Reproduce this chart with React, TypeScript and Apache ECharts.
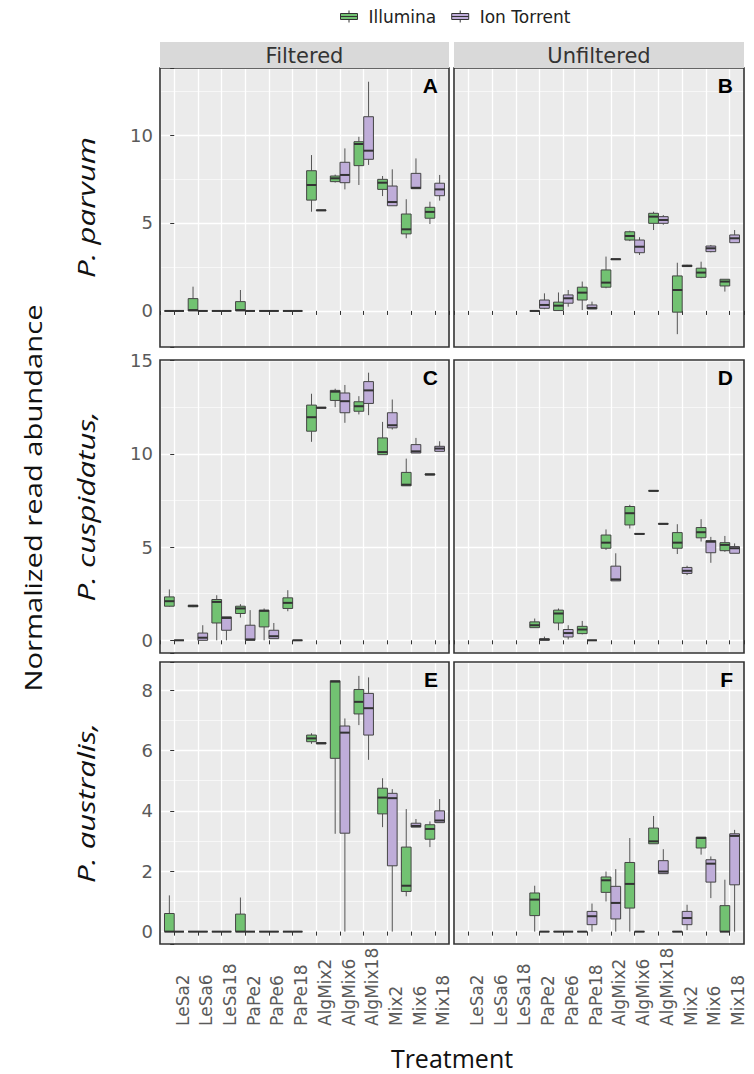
import React, { useEffect, useRef } from 'react';
import * as echarts from 'echarts';

// ---------- data ----------
const categories = ['LeSa2', 'LeSa6', 'LeSa18', 'PaPe2', 'PaPe6', 'PaPe18', 'AlgMix2', 'AlgMix6', 'AlgMix18', 'Mix2', 'Mix6', 'Mix18'];
const platforms = ['Illumina', 'Ion Torrent'];
const facetColumns = ['Filtered', 'Unfiltered'];
const speciesRows = ['P. parvum', 'P. cuspidatus,', 'P. australis,'];
const panelLetters = ['A', 'B', 'C', 'D', 'E', 'F'];

type Box = number[] | null; // [min, q1, median, q3, max]

// A: Filtered, P. parvum
const filteredParvumIllumina: Box[] = [
  [0, 0, 0, 0, 0], [0, 0, 0.05, 0.7, 1.38], [0, 0, 0, 0, 0], [0, 0, 0.05, 0.53, 1.19], [0, 0, 0, 0, 0], [0, 0, 0, 0, 0],
  [5.64, 6.3, 7.16, 7.97, 8.86], [7.3, 7.35, 7.54, 7.67, 7.75], [7.16, 8.26, 9.49, 9.62, 9.9],
  [6.53, 6.91, 7.29, 7.48, 7.67], [4.13, 4.38, 4.64, 5.51, 6.35], [4.94, 5.27, 5.63, 5.89, 6.21],
];
const filteredParvumIon: Box[] = [
  [0, 0, 0, 0, 0], [0, 0, 0, 0, 0], [0, 0, 0, 0, 0], [0, 0, 0, 0, 0], [0, 0, 0, 0, 0], [0, 0, 0, 0, 0],
  [5.7, 5.7, 5.72, 5.74, 5.74], [6.91, 7.29, 7.73, 8.45, 9.24], [8.3, 8.62, 9.11, 11.04, 13.03],
  [5.98, 5.98, 6.19, 7.1, 8.05], [6.95, 6.95, 7.0, 7.82, 8.67], [6.27, 6.55, 6.91, 7.26, 7.73],
];
// B: Unfiltered, P. parvum
const unfilteredParvumIllumina: Box[] = [
  null, null, null, [0, 0, 0, 0, 0], [0, 0.02, 0.3, 0.5, 1.05], [0.05, 0.62, 1.04, 1.35, 1.67],
  [1.29, 1.35, 1.61, 2.33, 3.09], [3.97, 4.03, 4.26, 4.5, 4.56], [4.6, 4.98, 5.36, 5.55, 5.64],
  [-1.32, -0.07, 1.19, 1.99, 2.74], [1.86, 1.91, 2.18, 2.43, 2.8], [1.1, 1.42, 1.67, 1.8, 1.8],
];
const unfilteredParvumIon: Box[] = [
  null, null, null, [0.1, 0.15, 0.34, 0.62, 1.0], [0.24, 0.44, 0.72, 0.91, 1.19], [0.11, 0.11, 0.17, 0.34, 0.53],
  [2.92, 2.92, 2.94, 2.96, 2.96], [3.18, 3.31, 3.65, 4.03, 4.19], [4.9, 4.98, 5.17, 5.36, 5.45],
  [2.5, 2.52, 2.56, 2.6, 2.62], [3.33, 3.37, 3.56, 3.69, 3.75], [3.88, 3.88, 4.13, 4.32, 4.6],
];
// C: Filtered, P. cuspidatus
const filteredCuspidatusIllumina: Box[] = [
  [1.8, 1.83, 2.1, 2.33, 2.73], [1.78, 1.8, 1.85, 1.88, 1.9], [0, 0.93, 2.06, 2.19, 2.42],
  [1.22, 1.44, 1.71, 1.83, 1.94], [0, 0.72, 1.58, 1.62, 1.71], [1.56, 1.71, 2.01, 2.28, 2.69],
  [10.65, 11.22, 11.97, 12.62, 13.23], [12.51, 12.87, 13.34, 13.41, 13.5], [12.12, 12.29, 12.56, 12.8, 13.1],
  [9.96, 9.96, 10.1, 10.86, 11.72], [8.29, 8.29, 8.35, 9.01, 9.75], [8.87, 8.87, 8.9, 8.93, 8.93],
];
const filteredCuspidatusIon: Box[] = [
  [0, 0, 0, 0, 0], [0, 0, 0.14, 0.39, 0.81], [0, 0.54, 1.2, 1.26, 1.26],
  [0, 0, 0.05, 0.81, 1.62], [0.09, 0.09, 0.22, 0.54, 0.93], [0, 0, 0, 0, 0],
  [12.45, 12.45, 12.48, 12.5, 12.5], [11.67, 12.21, 12.83, 13.27, 13.7], [12.08, 12.71, 13.41, 13.88, 14.36],
  [11.31, 11.4, 11.54, 12.21, 12.92], [10.05, 10.05, 10.14, 10.5, 10.86], [10.14, 10.14, 10.29, 10.41, 10.68],
];
// D: Unfiltered, P. cuspidatus
const unfilteredCuspidatusIllumina: Box[] = [
  null, null, null, [0.68, 0.68, 0.81, 0.99, 1.17], [0.54, 0.93, 1.44, 1.62, 1.71], [0.32, 0.36, 0.58, 0.75, 1.04],
  [4.85, 4.94, 5.24, 5.65, 5.95], [6.0, 6.19, 6.82, 7.18, 7.27], [8.0, 8.0, 8.02, 8.04, 8.04],
  [4.63, 4.94, 5.24, 5.78, 6.23], [5.3, 5.5, 5.8, 6.05, 6.5], [4.75, 4.81, 5.12, 5.24, 5.6],
];
const unfilteredCuspidatusIon: Box[] = [
  null, null, null, [0, 0, 0.05, 0.08, 0.2], [0.05, 0.18, 0.39, 0.58, 0.81], [0, 0, 0, 0, 0],
  [3.19, 3.19, 3.27, 3.98, 4.67], [5.69, 5.69, 5.71, 5.73, 5.73], [6.23, 6.23, 6.25, 6.27, 6.27],
  [3.5, 3.59, 3.73, 3.91, 4.0], [4.16, 4.7, 5.29, 5.35, 5.55], [4.67, 4.67, 4.94, 5.03, 5.2],
];
// E: Filtered, P. australis
const filteredAustralisIllumina: Box[] = [
  [0, 0, 0, 0.6, 1.2], [0, 0, 0, 0, 0], [0, 0, 0, 0, 0], [0, 0, 0, 0.58, 1.13], [0, 0, 0, 0, 0], [0, 0, 0, 0, 0],
  [6.22, 6.29, 6.4, 6.51, 6.57], [3.24, 5.74, 8.28, 8.31, 8.31], [6.84, 7.21, 7.61, 8.02, 8.47],
  [3.46, 3.9, 4.44, 4.75, 5.08], [1.17, 1.33, 1.52, 2.8, 4.06], [2.8, 3.06, 3.4, 3.54, 3.65],
];
const filteredAustralisIon: Box[] = [
  [0, 0, 0, 0, 0], [0, 0, 0, 0, 0], [0, 0, 0, 0, 0], [0, 0, 0, 0, 0], [0, 0, 0, 0, 0], [0, 0, 0, 0, 0],
  [6.22, 6.22, 6.24, 6.26, 6.26], [0, 3.26, 6.59, 6.81, 7.06], [5.69, 6.51, 7.4, 7.89, 8.42],
  [0, 2.18, 4.42, 4.58, 4.72], [3.46, 3.46, 3.5, 3.59, 3.73], [3.61, 3.61, 3.68, 4.0, 4.39],
];
// F: Unfiltered, P. australis
const unfilteredAustralisIllumina: Box[] = [
  null, null, null, [0, 0.53, 1.06, 1.28, 1.52], [0, 0, 0, 0, 0], [0, 0, 0, 0, 0],
  [1.0, 1.3, 1.7, 1.81, 1.99], [0, 0.78, 1.58, 2.29, 3.1], [2.91, 2.91, 2.99, 3.43, 3.83],
  [0, 0, 0, 0, 0], [2.55, 2.77, 3.1, 3.13, 3.13], [0, 0, 0, 0.86, 1.72],
];
const unfilteredAustralisIon: Box[] = [
  null, null, null, [0, 0, 0, 0, 0], [0, 0, 0, 0, 0], [0, 0.23, 0.51, 0.67, 0.93],
  [0, 0.42, 0.95, 1.5, 2.07], [0, 0, 0, 0, 0], [1.92, 1.92, 1.99, 2.35, 2.73],
  [0.05, 0.23, 0.45, 0.67, 0.89], [1.11, 1.64, 2.25, 2.38, 2.49], [0, 1.55, 3.17, 3.24, 3.37],
];

const panelData: Box[][][] = [
  [filteredParvumIllumina, filteredParvumIon],
  [unfilteredParvumIllumina, unfilteredParvumIon],
  [filteredCuspidatusIllumina, filteredCuspidatusIon],
  [unfilteredCuspidatusIllumina, unfilteredCuspidatusIon],
  [filteredAustralisIllumina, filteredAustralisIon],
  [unfilteredAustralisIllumina, unfilteredAustralisIon],
];

// y-axis ranges per row (ggplot-style expanded)
const rowYMin = [-2.05, -0.68, -0.41];
const rowYMax = [13.81, 15.04, 8.93];
const rowYStep = [5, 5, 2];

// ---------- layout / style ----------
const COL_X = [160, 454];
const COL_W = [289, 290];
const ROW_Y = [68, 360, 662];
const ROW_H = [279, 293, 282];
const COLORS = ['#72c272', '#bfadd9'];
const BOX_W = 0.41;
const BOX_OFF = [-0.205, 0.205];
const TICK_FONT = 'DejaVu Sans';
const TICK_COLOR = '#5a5a5a';

function makeRender(k: number) {
  return (params: any, api: any) => {
    const c = api.value(0);
    const vals = [api.value(1), api.value(2), api.value(3), api.value(4), api.value(5)];
    const cx = api.coord([c + BOX_OFF[k], 0])[0];
    const w = api.size([BOX_W, 0])[0];
    const y = vals.map((v: number) => api.coord([c, v])[1]);
    return {
      type: 'group',
      children: [
        { type: 'line', shape: { x1: cx, y1: y[4], x2: cx, y2: y[3] }, style: { stroke: '#555', lineWidth: 1 } },
        { type: 'line', shape: { x1: cx, y1: y[1], x2: cx, y2: y[0] }, style: { stroke: '#555', lineWidth: 1 } },
        { type: 'rect', shape: { x: cx - w / 2, y: y[3], width: w, height: Math.max(y[1] - y[3], 0) }, style: { fill: COLORS[k], stroke: '#444', lineWidth: 1 } },
        { type: 'line', shape: { x1: cx - w / 2, y1: y[2], x2: cx + w / 2, y2: y[2] }, style: { stroke: '#333', lineWidth: 2 } },
      ],
    };
  };
}

const intLabel = (v: number) => (Math.abs(v - Math.round(v)) < 1e-6 ? String(Math.round(v)) : '');
const catLabel = (v: number) => {
  const i = Math.round(v);
  return Math.abs(v - i) < 1e-6 && i >= 0 && i < categories.length ? categories[i] : '';
};

function buildOption() {
  const grids: any[] = [];
  const xAxes: any[] = [];
  const yAxes: any[] = [];
  const series: any[] = [];
  const graphics: any[] = [];

  for (let p = 0; p < 6; p++) {
    const row = Math.floor(p / 2);
    const col = p % 2;
    const left = COL_X[col];
    const top = ROW_Y[row];
    const width = COL_W[col];
    const height = ROW_H[row];
    grids.push({ left, top, width, height, show: true, backgroundColor: '#ebebeb', borderWidth: 0 });
    xAxes.push({
      type: 'value', gridIndex: p, min: -0.6, max: 11.6, minInterval: 1, maxInterval: 1,
      axisLine: { show: false },
      axisTick: { show: true, length: 4, lineStyle: { color: '#333', width: 1 } },
      axisLabel: {
        show: row === 2, formatter: catLabel, rotate: 90, align: 'left', verticalAlign: 'top', margin: 82,
        fontFamily: TICK_FONT, fontSize: 17, color: TICK_COLOR, showMinLabel: false, showMaxLabel: false,
      },
      splitLine: { show: true, lineStyle: { color: '#ffffff', width: 1.3 } },
    });
    yAxes.push({
      type: 'value', gridIndex: p, min: rowYMin[row], max: rowYMax[row],
      minInterval: rowYStep[row], maxInterval: rowYStep[row],
      axisLine: { show: false },
      axisTick: { show: col === 0, length: 4, lineStyle: { color: '#333', width: 1 } },
      axisLabel: { show: col === 0, formatter: intLabel, fontFamily: TICK_FONT, fontSize: 18, color: TICK_COLOR, margin: 7 },
      splitLine: { show: true, lineStyle: { color: '#ffffff', width: 1.3 } },
      minorTick: { show: false, splitNumber: 2 },
      minorSplitLine: { show: true, lineStyle: { color: '#ffffff', width: 0.6 } },
    });
    for (let k = 0; k < 2; k++) {
      const data = panelData[p][k]
        .map((b, i) => (b ? [i, ...b] : null))
        .filter((d) => d !== null);
      series.push({
        type: 'custom', name: platforms[k], xAxisIndex: p, yAxisIndex: p, data,
        encode: { x: 0, y: [1, 2, 3, 4, 5] },
        renderItem: makeRender(k), clip: false, silent: true, z: 5,
        itemStyle: { color: COLORS[k], borderColor: '#333' },
      });
    }
    // panel border
    graphics.push({ type: 'rect', z: 100, silent: true, shape: { x: left, y: top, width, height }, style: { fill: 'none', stroke: '#333', lineWidth: 1.6 } });
    // panel letter
    graphics.push({
      type: 'text', z: 101, x: left + width - 11, y: top + 7,
      style: { text: panelLetters[p], fill: '#000', font: 'bold 21px "Liberation Sans", Arial, sans-serif', align: 'right', verticalAlign: 'top', textAlign: 'right', textVerticalAlign: 'top' },
    });
  }

  // strips
  for (let c = 0; c < 2; c++) {
    graphics.push({ type: 'rect', z: 100, silent: true, shape: { x: COL_X[c], y: 42, width: COL_W[c], height: 26 }, style: { fill: '#d9d9d9' } });
    graphics.push({
      type: 'text', z: 101, x: COL_X[c] + COL_W[c] / 2, y: 55.5,
      style: { text: facetColumns[c], fill: '#333', font: '21px "DejaVu Sans", sans-serif', align: 'center', verticalAlign: 'middle', textAlign: 'center', textVerticalAlign: 'middle' },
    });
  }
  // row labels
  for (let r = 0; r < 3; r++) {
    graphics.push({
      type: 'text', z: 101, x: 86, y: ROW_Y[r] + ROW_H[r] / 2, rotation: Math.PI / 2, scaleX: 1.3,
      style: { text: speciesRows[r], fill: '#111', font: 'italic 24px "Open Sans", sans-serif', align: 'center', verticalAlign: 'middle', textAlign: 'center', textVerticalAlign: 'middle' },
    });
  }
  // axis titles
  graphics.push({
    type: 'text', z: 101, x: 33, y: 498, rotation: Math.PI / 2, scaleX: 1.27,
    style: { text: 'Normalized read abundance', fill: '#111', font: '23px "Open Sans", sans-serif', align: 'center', verticalAlign: 'middle', textAlign: 'center', textVerticalAlign: 'middle' },
  });
  graphics.push({
    type: 'text', z: 101, x: 452, y: 1058,
    style: { text: 'Treatment', fill: '#111', font: '25px "Open Sans", sans-serif', align: 'center', verticalAlign: 'middle', textAlign: 'center', textVerticalAlign: 'middle' },
  });

  const icon = 'path://M0,3L17,3L17,9L0,9Z M8.5,0L8.5,3 M8.5,9L8.5,12 M0,6L17,6';

  return {
    animation: false,
    backgroundColor: '#ffffff',
    legend: {
      data: platforms.map((name) => ({ name, icon })),
      left: 335, top: 3, itemWidth: 17, itemHeight: 12, itemGap: 15, selectedMode: false,
      itemStyle: { borderColor: '#333', borderWidth: 1 },
      textStyle: { fontFamily: TICK_FONT, fontSize: 17, color: '#222', padding: [0, 0, 0, 6] },
    },
    grid: grids,
    xAxis: xAxes,
    yAxis: yAxes,
    series,
    graphic: { elements: graphics },
  };
}

export default function App() {
  const ref = useRef<HTMLDivElement>(null);
  useEffect(() => {
    const chart = echarts.init(ref.current as HTMLDivElement, null, { renderer: 'svg', width: 754, height: 1074 });
    chart.setOption(buildOption() as any);
    return () => chart.dispose();
  }, []);
  return <div ref={ref} style={{ position: 'fixed', left: 0, top: 0, width: 754, height: 1074, background: '#fff' }} />;
}
